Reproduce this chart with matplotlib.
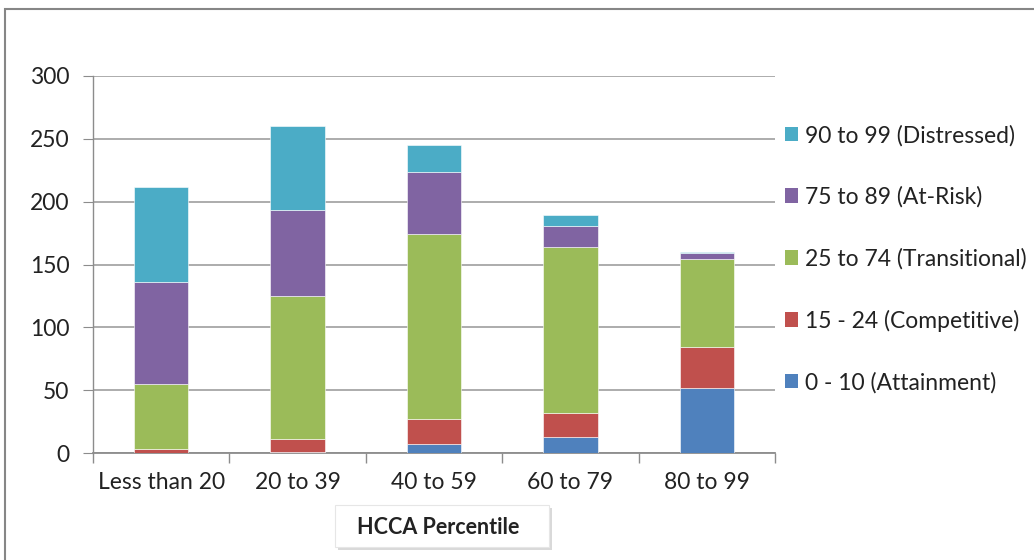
import matplotlib
matplotlib.use("Agg")
import matplotlib.pyplot as plt
import numpy as np
from matplotlib.patches import Rectangle, Patch

plt.rcParams['font.family'] = ['Lato', 'DejaVu Sans']

# 各百分位区间的学校数量（堆叠）
categories = ["Less than 20", "20 to 39", "40 to 59", "60 to 79", "80 to 99"]
attainment = [0, 1, 7, 13, 52]
competitive = [3, 10, 20, 19, 32]
transitional = [52, 114, 147, 132, 70]
at_risk = [81, 68, 50, 17, 5]
distressed = [76, 67, 21, 8, 1]

series_names = ["0 - 10 (Attainment)", "15 - 24 (Competitive)",
                "25 to 74 (Transitional)", "75 to 89 (At-Risk)",
                "90 to 99 (Distressed)"]
colors = ["#4F81BD", "#C0504D", "#9BBB59", "#8064A2", "#4BACC6"]

fig = plt.figure(figsize=(10.34, 5.6), dpi=100)
ax = fig.add_axes([93 / 1034, 1 - 453 / 560, (775 - 93) / 1034, (453 - 76) / 560])

x = np.arange(len(categories))
bottom = np.zeros(len(categories))
for vals, c in zip([attainment, competitive, transitional, at_risk, distressed], colors):
    ax.bar(x, vals, width=0.4, bottom=bottom, color=c, edgecolor="white",
           linewidth=0.4, zorder=3)
    bottom += np.array(vals)

ax.set_xlim(-0.5, len(categories) - 0.5)
ax.set_ylim(0, 300)
ax.set_yticks(range(0, 301, 50))
ax.yaxis.grid(True, color="#A6A6A6", linewidth=1.3, zorder=0)
ax.set_axisbelow(True)

# 分类刻度放在柱子之间
ax.set_xticks(x)
ax.set_xticklabels(categories, fontsize=16.5, color="#222222")
ax.set_xticks(np.arange(-0.5, len(categories), 1), minor=True)
ax.tick_params(axis="x", which="major", length=0, pad=14)
ax.tick_params(axis="x", which="minor", length=7, color="#8C8C8C", width=1)
ax.tick_params(axis="y", length=7, color="#8C8C8C", labelsize=16.5,
               labelcolor="#222222", pad=10)

for s in ["top", "right"]:
    ax.spines[s].set_visible(False)
ax.spines["left"].set_color("#8C8C8C")
ax.spines["bottom"].set_color("#8C8C8C")
ax.spines["left"].set_linewidth(1)
ax.spines["bottom"].set_linewidth(1.3)

handles = [Patch(facecolor=c, edgecolor="none") for c in colors][::-1]
fig.legend(handles, series_names[::-1], loc="upper left",
           bbox_to_anchor=(764 / 1034, 1 - 104 / 560), frameon=False,
           fontsize=16.5, labelspacing=1.75, handlelength=0.6, handleheight=0.6,
           handletextpad=0.3, labelcolor="#222222")

# 外框
fig.patches.append(Rectangle((5 / 1034, -0.1), 1.2, 1 - 9 / 560 + 0.1,
                             transform=fig.transFigure, fill=False,
                             edgecolor="#868686", linewidth=1.5))

# 横轴标题框
fig.patches.append(Rectangle((338 / 1034, 1 - 550 / 560), 214 / 1034, 42 / 560,
                             transform=fig.transFigure, facecolor="#D9D9D9",
                             edgecolor="none"))
fig.patches.append(Rectangle((335 / 1034, 1 - 547 / 560), 214 / 1034, 42 / 560,
                             transform=fig.transFigure, facecolor="white",
                             edgecolor="#E6E6E6", linewidth=0.8))
fig.text(438 / 1034, 1 - 528 / 560, "HCCA Percentile", fontsize=15.5,
         fontweight="bold", ha="center", va="center", color="#222222")

fig.savefig("out.png", dpi=100)
